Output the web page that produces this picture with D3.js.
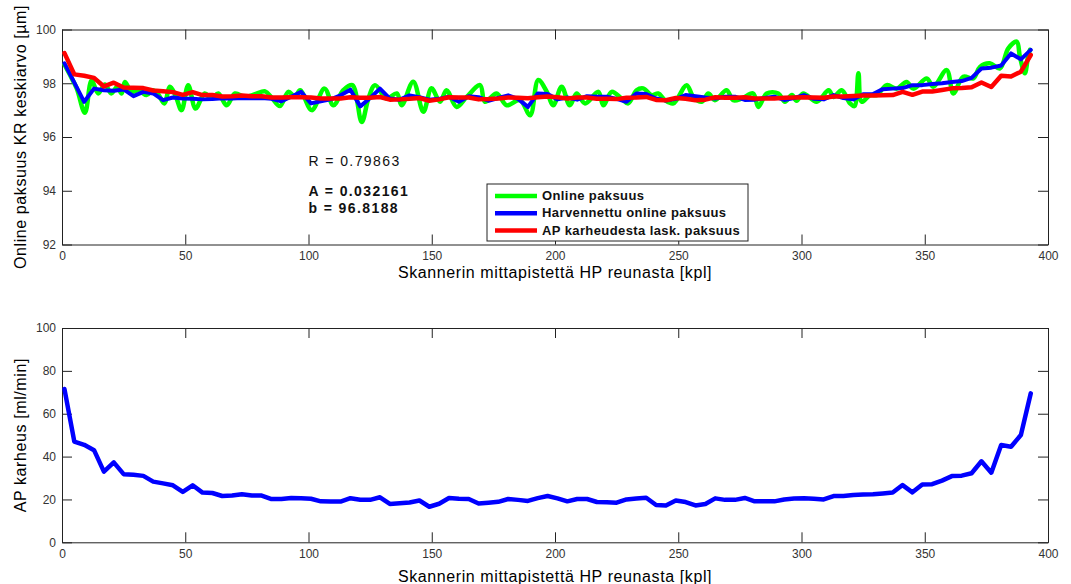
<!DOCTYPE html>
<html>
<head>
<meta charset="utf-8">
<script src="https://cdn.jsdelivr.net/npm/d3@7"></script>
<style>
  html, body { margin: 0; padding: 0; background: #fff; }
  svg { display: block; font-family: "Liberation Sans", Arial, sans-serif; }
  .tick text { font-size: 12px; fill: #333; }
  .tick line, .domain { stroke: #222; }
</style>
</head>
<body>
<svg id="chart" width="1071" height="584"></svg>
<script>
// Online thickness measured across the scanner positions (read at peaks and troughs)
const onlineX = [1, 3, 6, 9.3, 12, 14.7, 17.4, 20, 22.4, 24.2, 25.5, 28.2, 30.9, 34.3, 36.9, 39, 41.5, 43.8, 46, 48.5,
  51.2, 54.2, 57.9, 60.6, 63.4, 66.8, 70.2, 74.2, 78.3, 82.4, 85, 88.4, 91.8, 94.5, 96.6, 101.3, 106.5, 110.1, 114.2, 117.8,
  121.6, 124.3, 127, 131.7, 135.8, 137.8, 142.5, 146.6, 149.9, 153.4, 156, 160.1, 164.2, 169.6, 171.6, 176.3, 180.4, 185.8, 189.9, 193.2,
  196.6, 199.3, 202.7, 206, 208.8, 212.2, 217.6, 219.6, 223, 227, 229.7, 233.1, 235.8, 239.2, 241.9, 244.6, 248, 253.4, 256.1, 259.5,
  262.2, 264.9, 269.6, 272.3, 275.7, 280.4, 282.5, 285.9, 290.6, 293.3, 296.1, 298, 300.7, 306.2, 311, 313, 316.3, 319.7, 321.5, 323.1,
  324.4, 327.8, 330.5, 334.6, 338.6, 342.6, 345.4, 350.8, 353.5, 358.9, 361.6, 365.6, 369.7, 372.4, 376.4, 380.5, 383.9, 387.3, 388.6, 390.6,
  392, 392.7];
const onlineY = [98.70, 98.35, 97.80, 96.90, 98.10, 97.62, 97.95, 97.62, 97.87, 97.62, 98.05, 97.68, 97.74, 97.56, 97.74, 97.60, 97.25, 97.87, 97.55, 97.00,
  97.93, 97.06, 97.62, 97.43, 97.62, 97.18, 97.62, 97.49, 97.59, 97.70, 97.47, 97.15, 97.68, 97.50, 97.74, 97.00, 97.80, 97.18, 97.75, 97.93,
  96.56, 97.43, 97.93, 97.43, 97.62, 97.18, 98.06, 96.94, 97.81, 97.31, 97.74, 97.12, 97.49, 97.93, 97.31, 97.62, 97.18, 97.37, 96.81, 98.12,
  97.70, 97.18, 97.87, 97.18, 97.62, 97.25, 97.68, 97.18, 97.68, 97.43, 97.25, 97.74, 97.81, 97.56, 97.62, 97.37, 97.25, 97.93, 97.49, 97.31,
  97.62, 97.37, 97.74, 97.37, 97.43, 97.62, 97.12, 97.62, 97.62, 97.31, 97.56, 97.35, 97.62, 97.31, 97.74, 97.49, 97.74, 97.25, 97.15, 98.37,
  97.31, 97.56, 97.56, 97.93, 97.80, 98.05, 97.80, 98.18, 97.87, 98.49, 97.62, 98.24, 98.18, 98.61, 98.74, 98.55, 99.30, 99.55, 98.99, 98.37,
  99.05, 99.24];

// Thinned online thickness, one value every fourth scanner position (1, 5, 9, ..., 393)
const thinnedY = [98.74, 98.02, 97.31, 97.80, 97.74, 97.72, 97.77, 97.52, 97.68, 97.62,
  97.37, 97.47, 97.43, 97.42, 97.40, 97.41, 97.44, 97.43, 97.45, 97.44,
  97.45, 97.42, 97.33, 97.50, 97.68, 97.25, 97.33, 97.40, 97.55, 97.76,
  97.14, 97.45, 97.80, 97.43, 97.39, 97.55, 97.48, 97.39, 97.42, 97.50,
  97.31, 97.52, 97.48, 97.35, 97.45, 97.55, 97.42, 97.12, 97.62, 97.60,
  97.40, 97.47, 97.39, 97.52, 97.50, 97.50, 97.42, 97.31, 97.62, 97.60,
  97.43, 97.36, 97.42, 97.56, 97.52, 97.47, 97.43, 97.50, 97.50, 97.38,
  97.39, 97.45, 97.50, 97.38, 97.45, 97.56, 97.42, 97.40, 97.56, 97.45,
  97.40, 97.59, 97.60, 97.78, 97.80, 97.82, 97.93, 97.93, 97.97, 98.00,
  98.05, 98.08, 98.20, 98.55, 98.58, 98.66, 99.11, 98.89, 99.24];

// Thickness computed from AP roughness (A = 0.032161, b = 96.8188)
const computedY = [99.12, 98.33, 98.28, 98.20, 97.88, 98.02, 97.84, 97.83, 97.82, 97.73,
  97.70, 97.67, 97.57, 97.67, 97.56, 97.56, 97.51, 97.52, 97.54, 97.52,
  97.52, 97.47, 97.47, 97.48, 97.48, 97.47, 97.43, 97.43, 97.43, 97.48,
  97.46, 97.46, 97.49, 97.39, 97.40, 97.42, 97.45, 97.35, 97.40, 97.48,
  97.47, 97.47, 97.40, 97.41, 97.43, 97.47, 97.46, 97.44, 97.48, 97.51,
  97.48, 97.43, 97.47, 97.47, 97.42, 97.42, 97.41, 97.46, 97.47, 97.49,
  97.38, 97.37, 97.45, 97.42, 97.37, 97.39, 97.48, 97.46, 97.46, 97.48,
  97.43, 97.43, 97.43, 97.46, 97.47, 97.48, 97.47, 97.46, 97.51, 97.51,
  97.53, 97.54, 97.54, 97.55, 97.56, 97.68, 97.57, 97.69, 97.69, 97.75,
  97.81, 97.82, 97.85, 98.03, 97.86, 98.28, 98.25, 98.43, 99.05];

// AP roughness [ml/min] at the same thinned positions
const roughness = [71.5, 47.0, 45.5, 43.0, 33.0, 37.3, 31.8, 31.5, 31.0, 28.3,
  27.5, 26.6, 23.5, 26.6, 23.2, 23.0, 21.6, 21.8, 22.4, 21.8,
  21.8, 20.2, 20.2, 20.7, 20.6, 20.3, 19.1, 19.0, 19.0, 20.6,
  19.9, 19.8, 21.0, 17.9, 18.2, 18.6, 19.5, 16.6, 18.0, 20.7,
  20.3, 20.2, 18.1, 18.5, 18.9, 20.2, 19.8, 19.3, 20.6, 21.6,
  20.5, 19.1, 20.2, 20.2, 18.8, 18.7, 18.5, 20.0, 20.4, 20.8,
  17.4, 17.2, 19.5, 18.8, 17.2, 17.9, 20.5, 19.8, 19.8, 20.7,
  19.1, 19.1, 19.1, 20.0, 20.4, 20.5, 20.3, 20.0, 21.6, 21.6,
  22.1, 22.3, 22.4, 22.8, 23.2, 26.7, 23.3, 27.0, 27.1, 28.8,
  30.9, 31.1, 32.2, 37.8, 32.5, 45.4, 44.6, 50.1, 69.5];

const thinnedX = d3.range(1, 394, 4);

const xTicks = [0, 50, 100, 150, 200, 250, 300, 350, 400];
const yTicksTop = [92, 94, 96, 98, 100];
const yTicksBottom = [0, 20, 40, 60, 80, 100];

const legendLabels = ["Online paksuus", "Harvennettu online paksuus", "AP karheudesta lask. paksuus"];
const seriesColors = ["#00ff00", "#0000ff", "#ff0000"];
const xTitle = "Skannerin mittapistettä HP reunasta [kpl]";
const yTitleTop = "Online paksuus KR keskiarvo [µm]";
const yTitleBottom = "AP karheus [ml/min]";
const fitTexts = [
  { t: "R = 0.79863", x: 100, y: 95.05, w: "normal" },
  { t: "A = 0.032161", x: 100, y: 93.96, w: "bold" },
  { t: "b = 96.8188", x: 100, y: 93.31, w: "bold" }
];

const svg = d3.select("#chart");
const left = 62, right = 1048;
const x = d3.scaleLinear().domain([0, 400]).range([left, right]);
const TICK = 10;

function frame(g, y, yTicks) {
  const [y0, y1] = y.range();
  g.append("g").attr("transform", `translate(0,${y0})`)
    .call(d3.axisBottom(x).tickValues(xTicks).tickSizeInner(-TICK).tickSizeOuter(0).tickPadding(7));
  g.append("g").attr("transform", `translate(0,${y1})`)
    .call(d3.axisTop(x).tickValues(xTicks).tickSizeInner(-TICK).tickSizeOuter(0).tickFormat(""));
  g.append("g").attr("transform", `translate(${left},0)`)
    .call(d3.axisLeft(y).tickValues(yTicks).tickSizeInner(-TICK).tickSizeOuter(0).tickPadding(6));
  g.append("g").attr("transform", `translate(${right},0)`)
    .call(d3.axisRight(y).tickValues(yTicks).tickSizeInner(-TICK).tickSizeOuter(0).tickFormat(""));
}

// ---- upper panel: thickness ----
const yTop = d3.scaleLinear().domain([92, 100]).range([244.5, 29.5]);
const gTop = svg.append("g");
frame(gTop, yTop, yTicksTop);

const smooth = d3.line().curve(d3.curveCatmullRom.alpha(0.5));
const straight = d3.line();

gTop.append("path")
  .attr("d", smooth(onlineX.map((v, i) => [x(v), yTop(onlineY[i])])))
  .attr("fill", "none").attr("stroke", seriesColors[0]).attr("stroke-width", 4.5)
  .attr("stroke-linejoin", "round").attr("stroke-linecap", "round");
gTop.append("path")
  .attr("d", straight(thinnedX.map((v, i) => [x(v), yTop(thinnedY[i])])))
  .attr("fill", "none").attr("stroke", seriesColors[1]).attr("stroke-width", 4)
  .attr("stroke-linejoin", "round").attr("stroke-linecap", "round");
gTop.append("path")
  .attr("d", straight(thinnedX.map((v, i) => [x(v), yTop(computedY[i])])))
  .attr("fill", "none").attr("stroke", seriesColors[2]).attr("stroke-width", 4.5)
  .attr("stroke-linejoin", "round").attr("stroke-linecap", "round");

gTop.selectAll(".fit").data(fitTexts).join("text")
  .attr("x", d => x(d.x)).attr("y", d => yTop(d.y))
  .attr("dominant-baseline", "middle")
  .attr("font-size", 14).attr("font-weight", d => d.w).attr("letter-spacing", 1.4)
  .attr("fill", "#111").text(d => d.t);

// legend
const lg = gTop.append("g").attr("transform", "translate(487,184)");
lg.append("rect").attr("width", 261).attr("height", 57)
  .attr("fill", "#fff").attr("stroke", "#222");
legendLabels.forEach((lab, i) => {
  const cy = 12 + i * 17.3;
  lg.append("line").attr("x1", 8).attr("x2", 50).attr("y1", cy).attr("y2", cy)
    .attr("stroke", seriesColors[i]).attr("stroke-width", 4.5);
  lg.append("text").attr("x", 55).attr("y", cy + 0.5).attr("dominant-baseline", "middle")
    .attr("font-size", 13).attr("font-weight", "bold").attr("letter-spacing", 0.4)
    .attr("fill", "#111").text(lab);
});

// ---- lower panel: roughness ----
const yBot = d3.scaleLinear().domain([0, 100]).range([542.3, 328]);
const gBot = svg.append("g");
frame(gBot, yBot, yTicksBottom);
gBot.append("path")
  .attr("d", straight(thinnedX.map((v, i) => [x(v), yBot(roughness[i])])))
  .attr("fill", "none").attr("stroke", seriesColors[1]).attr("stroke-width", 4.5)
  .attr("stroke-linejoin", "round").attr("stroke-linecap", "round");

// axis titles
const cx = (left + right) / 2;
const titleStyle = t => t.attr("font-size", 16).attr("letter-spacing", 0.6).attr("fill", "#000");
svg.append("text").attr("x", cx).attr("y", 278).attr("text-anchor", "middle")
  .call(titleStyle).text(xTitle);
svg.append("text").attr("x", cx).attr("y", 582).attr("text-anchor", "middle")
  .call(titleStyle).text(xTitle);
svg.append("text").attr("transform", `translate(26,${(yTop.range()[0] + yTop.range()[1]) / 2}) rotate(-90)`)
  .attr("text-anchor", "middle").call(titleStyle).text(yTitleTop);
svg.append("text").attr("transform", `translate(26,${(yBot.range()[0] + yBot.range()[1]) / 2}) rotate(-90)`)
  .attr("text-anchor", "middle").call(titleStyle).text(yTitleBottom);
</script>
</body>
</html>
